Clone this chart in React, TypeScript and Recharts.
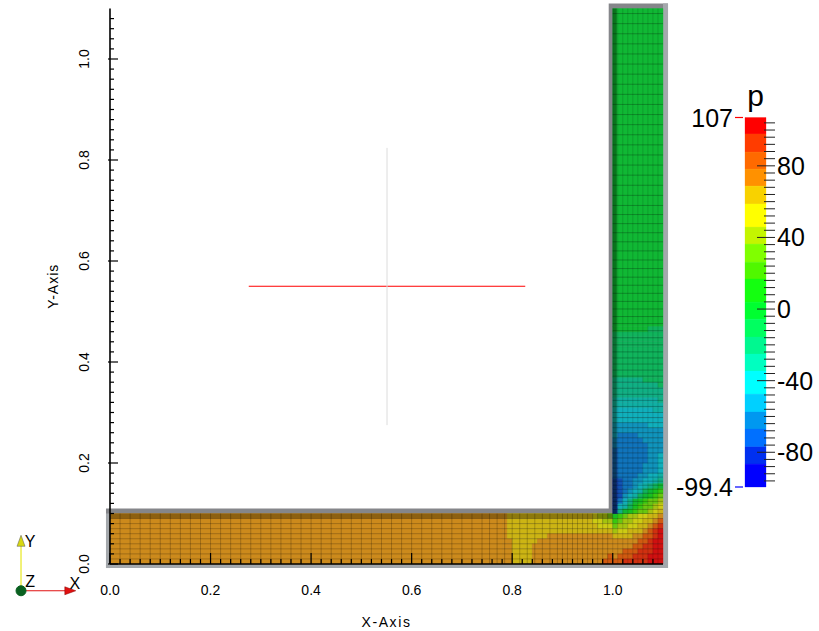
import React from 'react';
import {
  ComposedChart,
  Scatter,
  XAxis,
  YAxis,
  ReferenceArea,
  ReferenceLine,
  ReferenceDot,
} from 'recharts';

const WIDTH = 819;
const HEIGHT = 631;
const FONT = '"Liberation Sans", Arial, sans-serif';
// recharts hands custom ticks their position already pushed out by tick size + margin
const TICK_SHIFT = 8;

// pressure bands, top of the scale first (letters a..t in the rows below)
const bandLetters = 'abcdefghijklmnopqrst';
const barColors = [
  '#ff0000', '#ff3c00', '#ff6a00', '#ff9100', '#f8d200', '#ffff00', '#c4f500', '#80ff00', '#50f800', '#14ff10',
  '#00ff30', '#00ff60', '#00f890', '#00ffc0', '#00ffff', '#00d0ff', '#0098f0', '#0070ff', '#0030f0', '#0000ff',
];
const fieldColors = [
  '#d01010', '#d03010', '#d05a10', '#cc8a1c', '#ccb414', '#cccc14', '#a4c410', '#68c810', '#38c810', '#18c020',
  '#10b834', '#10b45c', '#10b084', '#10b0a4', '#10b0bc', '#1094bc', '#1074bc', '#1050b4', '#1030a8', '#1010a8',
];
const bandEdges = [
  107, 97.8, 87.7, 78.2, 68.7, 58.7, 45.8, 36.3, 26.2, 16.8, 3.9, -5.6, -15.6, -25.1, -34.6, -47.5, -57.5, -67, -77,
  -86.6, -99.4,
];

// horizontal leg from x=0.78 to x=1.10, rows from y=0.09 down to y=0.00, 0.01 per letter
const legRows = [
  'deeeeeeeeeeeeeeeeefggh' + 'jihggffeed',
  'deeeeeeeeeeeeeeeeeffgg' + 'ihggffeedc',
  'deeeeeeeeeeeeeeeeeefff' + 'hggffeedcb',
  'deeeeeeeeeeeeeeeeeeeee' + 'gffeeedcba',
  'deeeeeeeeddddddddddddd' + 'eeeeddccba',
  'ddeeeeeddddddddddddddd' + 'dddddccbaa',
  'ddeeeedddddddddddddddd' + 'ddddccbbaa',
  'ddeeeedddddddddddddddd' + 'ddcccbbbaa',
  'ddeeeedddddddddddddddc' + 'dcccbbbaaa',
  'ddeeeeddddddddddddddcc' + 'ccbbbbbaaa',
];

// vertical leg from x=1.00 to x=1.10, rows from y=0.10 up to y=0.46
const stemRows = [
  'smkjihhgfe', 'sonljihhgf', 'sqomkjihhg', 'srponlkjih', 'srqponlkji', 'srqqponmlk', 'srqqppoonm', 'rqqqqppoon',
  'rqqqqqpppo', 'rqqqqqpppo', 'rqqqqqqppo', 'rqqqqqqppo', 'rqqqqqqppp', 'qqqqqqqppp', 'qqqqqqpppp', 'pqqqqppppp',
  'pppppppppp', 'pppppppooo', 'oooooooooo', 'oooooooooo', 'oooooooonn', 'nnnnnnnnnn', 'nnnnnnnnnm', 'mmmmmmmmmm',
  'mmmmmmmmmm', 'mmmmmmmmml', 'mmmmmmllll', 'llllllllll', 'llllllllll', 'llllllllll', 'llllllllll',
  'llllllllll', 'llllllllll', 'llllllllll', 'llllllllll', 'llllllllll', 'kkkkkkklll',
];

// mesh lines of the block
const legMeshX = [
  0.02, 0.04, 0.06, 0.08, 0.1, 0.12, 0.14, 0.16, 0.18, 0.2, 0.22, 0.24, 0.26, 0.28, 0.3, 0.32, 0.34, 0.36, 0.38, 0.4,
  0.42, 0.44, 0.46, 0.48, 0.5, 0.52, 0.54, 0.56, 0.58, 0.6, 0.62, 0.64, 0.66, 0.68, 0.7, 0.72, 0.74, 0.755, 0.77, 0.785,
  0.8, 0.815, 0.83, 0.845, 0.86, 0.875, 0.89, 0.9, 0.91, 0.92, 0.93, 0.94, 0.95, 0.96, 0.97, 0.98, 0.99,
];
const legMeshY = [0.01, 0.02, 0.03, 0.04, 0.05, 0.06, 0.07, 0.08, 0.09];
const stemMeshX = [1.0, 1.01, 1.02, 1.03, 1.04, 1.05, 1.06, 1.07, 1.08, 1.09];
const stemMeshY = [
  0.1, 0.108, 0.116, 0.124, 0.132, 0.14, 0.148, 0.156, 0.164, 0.172, 0.18, 0.19, 0.2, 0.21, 0.22, 0.23, 0.24, 0.25,
  0.26, 0.27, 0.28, 0.29, 0.3, 0.312, 0.324, 0.336, 0.348, 0.36, 0.372, 0.384, 0.396, 0.408, 0.42, 0.434, 0.448, 0.462,
  0.476, 0.49, 0.505, 0.52, 0.536, 0.552, 0.568, 0.585, 0.602, 0.62, 0.638, 0.656, 0.674, 0.692, 0.71, 0.73, 0.75,
  0.77, 0.79, 0.81, 0.83, 0.85, 0.87, 0.89, 0.91, 0.93, 0.95, 0.97, 0.99, 1.01, 1.03, 1.05, 1.07, 1.09,
];

// axis ticks
const axisTicks = [
  0, 0.02, 0.04, 0.06, 0.08, 0.1, 0.12, 0.14, 0.16, 0.18, 0.2, 0.22, 0.24, 0.26, 0.28, 0.3, 0.32, 0.34, 0.36, 0.38, 0.4,
  0.42, 0.44, 0.46, 0.48, 0.5, 0.52, 0.54, 0.56, 0.58, 0.6, 0.62, 0.64, 0.66, 0.68, 0.7, 0.72, 0.74, 0.76, 0.78, 0.8,
  0.82, 0.84, 0.86, 0.88, 0.9, 0.92, 0.94, 0.96, 0.98, 1.0, 1.02, 1.04, 1.06, 1.08,
];
const majorTicks = [0, 0.2, 0.4, 0.6, 0.8, 1.0];
const scaleTicks = [
  -99.4, -96, -92, -88, -84, -80, -76, -72, -68, -64, -60, -56, -52, -48, -44, -40, -36, -32, -28, -24, -20, -16, -12,
  -8, -4, 0, 4, 8, 12, 16, 20, 24, 28, 32, 36, 40, 44, 48, 52, 56, 60, 64, 68, 72, 76, 80, 84, 88, 92, 96, 100, 104, 107,
];
const scaleLabels = [-80, -40, 0, 40, 80];

// corners of the block and of the scale, these give the axes their data
const blockCorners = [{ x: 0, y: 0 }, { x: 1.1, y: 1.1 }];
const scaleEnds = [{ x: 0, p: -99.4 }, { x: 1, p: 107 }];

const makeCells = (rows: string[], x0: number, yOf: (i: number) => number) => {
  const cells: { x1: number; x2: number; y1: number; y2: number; band: number }[] = [];
  rows.forEach((row, i) => {
    let start = 0;
    for (let c = 1; c <= row.length; c++) {
      if (c === row.length || row[c] !== row[start]) {
        cells.push({
          x1: x0 + start * 0.01,
          x2: x0 + c * 0.01,
          y1: yOf(i),
          y2: yOf(i) + 0.01,
          band: bandLetters.indexOf(row[start]),
        });
        start = c;
      }
    }
  });
  return cells;
};

const fieldCells = [
  { x1: 0, x2: 0.78, y1: 0, y2: 0.1, band: 3 },
  { x1: 1.0, x2: 1.1, y1: 0.47, y2: 1.1, band: 10 },
  ...makeCells(legRows, 0.78, i => 0.09 - i * 0.01),
  ...makeCells(stemRows, 1.0, i => 0.1 + i * 0.01),
];

const XTick = ({ x, y, payload }: any) => {
  const major = majorTicks.includes(payload.value);
  const base = y - TICK_SHIFT;
  return (
    <g>
      <line x1={x} x2={x} y1={base} y2={base - (major ? 11 : 5)} stroke="#000" strokeWidth={1.2} />
      {major && (
        <text x={x} y={base + 31} textAnchor="middle" fontSize={14} fontFamily={FONT} fill="#000">
          {payload.value.toFixed(1)}
        </text>
      )}
    </g>
  );
};

const YTick = ({ x, y, payload }: any) => {
  const major = majorTicks.includes(payload.value);
  const base = x + TICK_SHIFT;
  return (
    <g>
      <line x1={base - (major ? 2 : 0)} x2={base + (major ? 8 : 4)} y1={y} y2={y} stroke="#000" strokeWidth={1.2} />
      {major && (
        <text
          x={base - 21}
          y={y}
          textAnchor="middle"
          fontSize={14}
          fontFamily={FONT}
          fill="#000"
          transform={`rotate(-90 ${base - 21} ${y})`}
        >
          {payload.value.toFixed(1)}
        </text>
      )}
    </g>
  );
};

const ScaleTick = ({ x, y, payload }: any) => {
  const v = payload.value;
  const base = x - TICK_SHIFT;
  if (v === 107 || v === -99.4) {
    return (
      <g>
        <line x1={base - 31} x2={base - 23} y1={y} y2={y} stroke={v === 107 ? '#ff0000' : '#0000ff'} strokeWidth={1.2} />
        <text x={base - 33} y={y + 9} textAnchor="end" fontSize={25} fontFamily={FONT} fill="#000">
          {v}
        </text>
      </g>
    );
  }
  const major = scaleLabels.includes(v);
  return (
    <g>
      <line x1={base - (major ? 9 : 2)} x2={base + 9} y1={y} y2={y} stroke="#222" strokeWidth={1} />
      {major && (
        <text x={base + 11} y={y + 9} fontSize={25} fontFamily={FONT} fill="#000">
          {v}
        </text>
      )}
    </g>
  );
};

const ConeUp = ({ cx, cy }: any) => (
  <path d={`M${cx} ${cy - 6} L${cx + 4} ${cy + 5} L${cx - 4} ${cy + 5} Z`} fill="#d8d810" stroke="#555" strokeWidth={0.5} />
);
const ConeRight = ({ cx, cy }: any) => (
  <path d={`M${cx + 6} ${cy} L${cx - 5} ${cy + 4} L${cx - 5} ${cy - 4} Z`} fill="#e01010" stroke="#800" strokeWidth={0.5} />
);

const widgetLabel = (value: string, dx: number, dy: number) => ({
  value,
  position: 'center' as const,
  dx,
  dy,
  fontSize: 16,
  fontFamily: FONT,
  fill: '#000',
});

const App = () => (
  <div style={{ position: 'absolute', left: 0, top: 0, width: WIDTH, height: HEIGHT, background: '#fff' }}>
    <div style={{ position: 'absolute', left: 0, top: 0 }}>
      <ComposedChart width={WIDTH} height={HEIGHT} margin={{ left: 100, right: 156, top: 8.5, bottom: 57 }}>
        <Scatter data={blockCorners} fill="none" isAnimationActive={false} />

        {/* gray outline of the block */}
        <ReferenceArea x1={-0.008} x2={1.11} y1={-0.008} y2={0.11} ifOverflow="visible" fill="#85868a" fillOpacity={1} />
        <ReferenceArea x1={0.992} x2={1.11} y1={0} y2={1.11} ifOverflow="visible" fill="#85868a" fillOpacity={1} />
        <ReferenceArea x1={1.1} x2={1.11} y1={-0.008} y2={1.11} ifOverflow="visible" fill="#a4a8ac" fillOpacity={1} />
        <ReferenceArea x1={-0.008} x2={1.11} y1={-0.008} y2={0} ifOverflow="visible" fill="#a4a8ac" fillOpacity={1} />
        <ReferenceArea x1={-0.008} x2={0} y1={-0.008} y2={0.1} ifOverflow="visible" fill="#a4a8ac" fillOpacity={1} />

        {fieldCells.map((c, i) => (
          <ReferenceArea
            key={`cell-${i}`}
            x1={c.x1}
            x2={c.x2}
            y1={c.y1}
            y2={c.y2}
            fill={fieldColors[c.band]}
            stroke={fieldColors[c.band]}
            strokeWidth={0.4}
            fillOpacity={1}
          />
        ))}

        {/* shaded walls along the inner corner */}
        <ReferenceArea x1={0} x2={1.0} y1={0.09} y2={0.1} fill="#302000" fillOpacity={0.4} />
        <ReferenceArea x1={1.0} x2={1.008} y1={0.1} y2={1.1} fill="#002000" fillOpacity={0.45} />

        {legMeshX.map(x => (
          <ReferenceLine key={`lx-${x}`} segment={[{ x, y: 0 }, { x, y: 0.1 }]} stroke="#000" strokeOpacity={0.22} />
        ))}
        {legMeshY.map(y => (
          <ReferenceLine key={`ly-${y}`} segment={[{ x: 0, y }, { x: 1.1, y }]} stroke="#000" strokeOpacity={0.22} />
        ))}
        {stemMeshX.map(x => (
          <ReferenceLine key={`sx-${x}`} segment={[{ x, y: 0 }, { x, y: 1.1 }]} stroke="#000" strokeOpacity={0.15} />
        ))}
        {stemMeshY.map(y => (
          <ReferenceLine key={`sy-${y}`} segment={[{ x: 1.0, y }, { x: 1.1, y }]} stroke="#000" strokeOpacity={0.25} />
        ))}

        {/* crosshair */}
        <ReferenceLine segment={[{ x: 0.276, y: 0.55 }, { x: 0.826, y: 0.55 }]} stroke="#ff0000" strokeWidth={1} />
        <ReferenceLine segment={[{ x: 0.551, y: 0.275 }, { x: 0.551, y: 0.824 }]} stroke="#dcdcdc" strokeWidth={1} />

        {/* orientation widget */}
        <ReferenceLine
          ifOverflow="visible"
          segment={[{ x: -0.177, y: -0.053 }, { x: -0.177, y: 0.045 }]}
          stroke="#e8e820"
          strokeWidth={1.2}
        />
        <ReferenceLine
          ifOverflow="visible"
          segment={[{ x: -0.177, y: -0.053 }, { x: -0.08, y: -0.053 }]}
          stroke="#e01010"
          strokeWidth={1.2}
        />
        <ReferenceDot ifOverflow="visible" x={-0.177} y={0.045} shape={ConeUp} label={widgetLabel('Y', 9, 0)} />
        <ReferenceDot ifOverflow="visible" x={-0.08} y={-0.053} shape={ConeRight} label={widgetLabel('X', 5, -7)} />
        <ReferenceDot
          ifOverflow="visible"
          x={-0.177}
          y={-0.053}
          r={5}
          fill="#0a6020"
          stroke="#0a6020"
          label={widgetLabel('Z', 9, -9)}
        />

        <XAxis
          type="number"
          dataKey="x"
          domain={[0, 1.1]}
          ticks={axisTicks}
          interval={0}
          height={10}
          axisLine={{ stroke: '#000', strokeWidth: 1.6 }}
          tickLine={false}
          tick={XTick}
          label={{
            value: 'X-Axis',
            position: 'bottom',
            offset: 43,
            fontSize: 14,
            letterSpacing: 1.6,
            fontFamily: FONT,
            fill: '#000',
          }}
        />
        <YAxis
          type="number"
          dataKey="y"
          domain={[0, 1.1]}
          ticks={axisTicks}
          interval={0}
          width={10}
          axisLine={{ stroke: '#000', strokeWidth: 1.6 }}
          tickLine={false}
          tick={YTick}
          label={{
            value: 'Y-Axis',
            angle: -90,
            position: 'left',
            offset: 47,
            textAnchor: 'middle',
            fontSize: 14,
            letterSpacing: 1,
            fontFamily: FONT,
            fill: '#000',
          }}
        />
      </ComposedChart>
    </div>

    {/* colour scale */}
    <div style={{ position: 'absolute', left: 0, top: 0 }}>
      <ComposedChart width={WIDTH} height={HEIGHT} margin={{ left: 745, right: 43, top: 117.5, bottom: 144 }}>
        <Scatter data={scaleEnds} fill="none" isAnimationActive={false} />
        {barColors.map((color, i) => (
          <ReferenceArea
            key={color}
            x1={0}
            x2={1}
            y1={bandEdges[i + 1]}
            y2={bandEdges[i]}
            fill={color}
            stroke={color}
            strokeWidth={0.3}
            fillOpacity={1}
          />
        ))}
        <ReferenceDot
          ifOverflow="visible"
          x={0.5}
          y={107}
          r={0}
          label={{ value: 'p', position: 'top', offset: 12, fontSize: 30, fontFamily: FONT, fill: '#000' }}
        />
        <XAxis type="number" dataKey="x" domain={[0, 1]} hide />
        <YAxis
          type="number"
          dataKey="p"
          orientation="right"
          domain={[-99.4, 107]}
          ticks={scaleTicks}
          interval={0}
          width={10}
          axisLine={false}
          tickLine={false}
          tick={ScaleTick}
        />
      </ComposedChart>
    </div>
  </div>
);

export default App;
